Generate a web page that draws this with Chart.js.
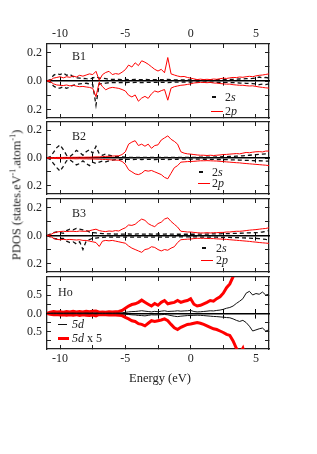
<!DOCTYPE html>
<html>
<head>
<meta charset="utf-8">
<script src="https://cdn.jsdelivr.net/npm/chart.js@4.4.1/dist/chart.umd.min.js"></script>
<style>
  body { margin: 0; background: #fff; }
  #wrap { position: relative; width: 317px; height: 454px; overflow: hidden; font-family: 'Liberation Serif', 'Times New Roman', serif; color: #222; }
  #wrap canvas { position: absolute; left: 0; top: 0; }
  .t { position: absolute; white-space: nowrap; font-size: 12px; line-height: 14px; transform: translateY(-50%); }
  .sym { position: absolute; }
</style>
</head>
<body>
<div id="wrap">
  <canvas id="c1" width="317" height="454"></canvas>
  <canvas id="c2" width="317" height="454"></canvas>
  <canvas id="c3" width="317" height="454"></canvas>
  <canvas id="c4" width="317" height="454"></canvas>
</div>
<script>
// energy grid (eV)
const energy = [
  -11, -10.75, -10.5, -10.25,
  -10, -9.75, -9.5, -9.25,
  -9, -8.75, -8.5, -8.25,
  -8, -7.75, -7.5, -7.25,
  -7, -6.75, -6.5, -6.25,
  -6, -5.75, -5.5, -5.25,
  -5, -4.75, -4.5, -4.25,
  -4, -3.75, -3.5, -3.25,
  -3, -2.75, -2.5, -2.25,
  -2, -1.75, -1.5, -1.25,
  -1, -0.75, -0.5, -0.25,
  0, 0.25, 0.5, 0.75,
  1, 1.25, 1.5, 1.75,
  2, 2.25, 2.5, 2.75,
  3, 3.25, 3.5, 3.75,
  4, 4.25, 4.5, 4.75,
  5, 5.25, 5.5, 5.75,
  6
];
const xTickLabels = [-10, -5, 0, 5];

// B1
const b1pUp = [
  0, 0.005, 0.02, 0.025,
  0.03, 0.022, 0.03, 0.026,
  0.035, 0.028, 0.04, 0.034,
  0.042, 0.05, 0.045, 0.068,
  0.005, 0.045, 0.06, 0.068,
  0.045, 0.052, 0.048, 0.062,
  0.08, 0.112, 0.098, 0.128,
  0.108, 0.142, 0.132, 0.118,
  0.1, 0.082, 0.07, 0.082,
  0.058, 0.165, 0.05, 0.042,
  0.035, 0.03, 0.032, 0.025,
  0.02, 0.015, 0.01, 0.013,
  0.01, 0.012, 0.01, 0.014,
  0.012, 0.016, 0.02, 0.018,
  0.022, 0.025, 0.024, 0.028,
  0.026, 0.03, 0.033, 0.03,
  0.036, 0.04, 0.042, 0.046,
  0.05
];
const b1pDown = [
  0, -0.005, -0.02, -0.028,
  -0.03, -0.032, -0.028, -0.034,
  -0.03, -0.036, -0.04, -0.038,
  -0.042, -0.045, -0.052, -0.11,
  -0.008, -0.04, -0.062, -0.05,
  -0.045, -0.048, -0.052, -0.06,
  -0.07, -0.1, -0.112, -0.098,
  -0.142, -0.12, -0.108, -0.122,
  -0.09, -0.07, -0.078, -0.068,
  -0.06, -0.135, -0.05, -0.04,
  -0.035, -0.03, -0.028, -0.024,
  -0.02, -0.014, -0.012, -0.01,
  -0.01, -0.012, -0.01, -0.014,
  -0.015, -0.018, -0.02, -0.022,
  -0.022, -0.026, -0.028, -0.03,
  -0.03, -0.033, -0.035, -0.034,
  -0.038, -0.042, -0.045, -0.048,
  -0.05
];
const b1sUp = [
  0, 0.01, 0.04, 0.052,
  0.045, 0.056, 0.04, 0.048,
  0.03, 0.022, 0.02, 0.018,
  0.016, 0.015, 0.02, 0.03,
  0.02, 0.02, 0.016, 0.012,
  0.012, 0.01, 0.012, 0.01,
  0.012, 0.01, 0.01, 0.011,
  0.01, 0.01, 0.011, 0.01,
  0.01, 0.009, 0.01, 0.009,
  0.01, 0.012, 0.009, 0.008,
  0.008, 0.008, 0.007, 0.008,
  0.007, 0.007, 0.008, 0.007,
  0.007, 0.008, 0.008, 0.008,
  0.009, 0.009, 0.01, 0.01,
  0.011, 0.012, 0.013, 0.014,
  0.015, 0.016, 0.017, 0.018,
  0.02, 0.028, 0.022, 0.025,
  0.02
];
const b1sDown = [
  0, -0.01, -0.035, -0.05,
  -0.05, -0.04, -0.052, -0.042,
  -0.03, -0.025, -0.02, -0.018,
  -0.016, -0.02, -0.025, -0.17,
  -0.02, -0.018, -0.015, -0.012,
  -0.012, -0.011, -0.012, -0.01,
  -0.012, -0.01, -0.011, -0.01,
  -0.01, -0.011, -0.01, -0.01,
  -0.01, -0.009, -0.01, -0.01,
  -0.009, -0.012, -0.009, -0.008,
  -0.008, -0.008, -0.007, -0.008,
  -0.007, -0.008, -0.007, -0.007,
  -0.008, -0.007, -0.008, -0.008,
  -0.009, -0.009, -0.01, -0.01,
  -0.011, -0.012, -0.012, -0.014,
  -0.015, -0.016, -0.017, -0.018,
  -0.02, -0.026, -0.022, -0.025,
  -0.02
];

// B2
const b2pUp = [
  0, 0.002, 0.003, 0.004,
  0.004, 0.004, 0.005, 0.004,
  0.005, 0.005, 0.006, 0.005,
  0.006, 0.006, 0.007, 0.008,
  0.008, 0.01, 0.012, 0.012,
  0.014, 0.015, 0.016, 0.025,
  0.045, 0.1, 0.115, 0.125,
  0.09, 0.1, 0.085, 0.1,
  0.07, 0.09, 0.095, 0.13,
  0.145, 0.16, 0.135, 0.12,
  0.1, 0.045, 0.035, 0.03,
  0.028, 0.025, 0.022, 0.02,
  0.02, 0.018, 0.02, 0.018,
  0.02, 0.022, 0.025, 0.026,
  0.028, 0.03, 0.032, 0.03,
  0.035, 0.04, 0.038, 0.042,
  0.045, 0.046, 0.044, 0.05,
  0.05
];
const b2pDown = [
  0, -0.002, -0.003, -0.004,
  -0.004, -0.005, -0.004, -0.005,
  -0.005, -0.006, -0.005, -0.006,
  -0.006, -0.007, -0.007, -0.008,
  -0.009, -0.01, -0.011, -0.012,
  -0.014, -0.015, -0.016, -0.025,
  -0.045, -0.085, -0.1, -0.115,
  -0.12, -0.11, -0.09, -0.095,
  -0.09, -0.1, -0.11, -0.12,
  -0.14, -0.15, -0.11, -0.07,
  -0.055, -0.03, -0.028, -0.026,
  -0.025, -0.024, -0.022, -0.02,
  -0.02, -0.019, -0.02, -0.021,
  -0.022, -0.024, -0.026, -0.028,
  -0.03, -0.032, -0.034, -0.035,
  -0.038, -0.04, -0.042, -0.044,
  -0.046, -0.048, -0.05, -0.052,
  -0.055
];
const b2sUp = [
  0, 0.01, 0.04, 0.075,
  0.095, 0.06, 0.02, 0.01,
  0.03, 0.055, 0.04, 0.02,
  0.045, 0.06, 0.035, 0.085,
  0.03, 0.02, 0.03, 0.02,
  0.015, 0.012, 0.01, 0.008,
  0.006, 0.005, 0.004, 0.005,
  0.004, 0.004, 0.005, 0.004,
  0.004, 0.004, 0.005, 0.004,
  0.004, 0.005, 0.004, 0.004,
  0.004, 0.004, 0.004, 0.005,
  0.005, 0.005, 0.005, 0.006,
  0.006, 0.006, 0.007, 0.007,
  0.008, 0.008, 0.009, 0.01,
  0.011, 0.012, 0.013, 0.014,
  0.016, 0.018, 0.02, 0.022,
  0.024, 0.026, 0.028, 0.03,
  0.03
];
const b2sDown = [
  0, -0.01, -0.04, -0.07,
  -0.095, -0.06, -0.02, -0.012,
  -0.03, -0.05, -0.04, -0.02,
  -0.04, -0.055, -0.03, -0.04,
  -0.03, -0.022, -0.028, -0.02,
  -0.015, -0.012, -0.011, -0.01,
  -0.01, -0.01, -0.011, -0.01,
  -0.01, -0.011, -0.01, -0.01,
  -0.01, -0.011, -0.01, -0.01,
  -0.01, -0.011, -0.01, -0.01,
  -0.009, -0.008, -0.008, -0.008,
  -0.008, -0.008, -0.008, -0.009,
  -0.009, -0.009, -0.01, -0.01,
  -0.011, -0.011, -0.012, -0.012,
  -0.013, -0.014, -0.014, -0.015,
  -0.016, -0.017, -0.018, -0.019,
  -0.02, -0.02, -0.021, -0.022,
  -0.022
];

// B3
const b3pUp = [
  0, 0.005, 0.018, 0.025,
  0.028, 0.03, 0.028, 0.03,
  0.03, 0.028, 0.032, 0.03,
  0.03, 0.034, 0.04, 0.045,
  0.035, 0.03, 0.028, 0.032,
  0.03, 0.035, 0.032, 0.045,
  0.055, 0.075, 0.072, 0.08,
  0.1, 0.117, 0.108, 0.085,
  0.072, 0.063, 0.085, 0.095,
  0.117, 0.126, 0.1, 0.08,
  0.06, 0.03, 0.028, 0.025,
  0.025, 0.022, 0.02, 0.018,
  0.018, 0.02, 0.018, 0.02,
  0.02, 0.022, 0.022, 0.025,
  0.025, 0.028, 0.03, 0.03,
  0.032, 0.035, 0.038, 0.04,
  0.042, 0.045, 0.048, 0.05,
  0.055
];
const b3pDown = [
  0, -0.005, -0.02, -0.028,
  -0.03, -0.028, -0.03, -0.028,
  -0.03, -0.032, -0.03, -0.035,
  -0.035, -0.04, -0.045, -0.05,
  -0.078, -0.04, -0.035, -0.038,
  -0.035, -0.04, -0.045, -0.05,
  -0.055, -0.075, -0.09, -0.1,
  -0.11, -0.12, -0.1, -0.095,
  -0.08, -0.085, -0.1, -0.11,
  -0.1, -0.105, -0.09, -0.08,
  -0.05, -0.03, -0.028, -0.026,
  -0.025, -0.022, -0.02, -0.02,
  -0.02, -0.021, -0.022, -0.022,
  -0.024, -0.025, -0.026, -0.028,
  -0.03, -0.032, -0.034, -0.036,
  -0.038, -0.04, -0.042, -0.045,
  -0.047, -0.05, -0.052, -0.054,
  -0.056
];
const b3sUp = [
  0, 0.01, 0.02, 0.025,
  0.02, 0.015, 0.035, 0.045,
  0.04, 0.05, 0.045, 0.04,
  0.035, 0.025, 0.02, 0.018,
  0.015, 0.014, 0.012, 0.012,
  0.011, 0.01, 0.011, 0.01,
  0.01, 0.011, 0.01, 0.01,
  0.011, 0.01, 0.01, 0.011,
  0.01, 0.01, 0.011, 0.01,
  0.01, 0.011, 0.01, 0.01,
  0.009, 0.009, 0.009, 0.009,
  0.009, 0.009, 0.01, 0.01,
  0.01, 0.01, 0.011, 0.011,
  0.012, 0.012, 0.013, 0.013,
  0.014, 0.015, 0.015, 0.016,
  0.017, 0.018, 0.019, 0.02,
  0.02, 0.022, 0.025, 0.03,
  0.035
];
const b3sDown = [
  0, -0.01, -0.02, -0.025,
  -0.02, -0.02, -0.04, -0.05,
  -0.045, -0.06, -0.045, -0.1,
  -0.04, -0.03, -0.02, -0.018,
  -0.015, -0.014, -0.012, -0.012,
  -0.012, -0.011, -0.012, -0.011,
  -0.012, -0.011, -0.012, -0.011,
  -0.012, -0.011, -0.011, -0.012,
  -0.011, -0.011, -0.012, -0.011,
  -0.011, -0.012, -0.011, -0.011,
  -0.01, -0.01, -0.01, -0.01,
  -0.01, -0.01, -0.01, -0.011,
  -0.011, -0.011, -0.012, -0.012,
  -0.012, -0.013, -0.013, -0.014,
  -0.014, -0.015, -0.015, -0.016,
  -0.017, -0.018, -0.019, -0.02,
  -0.021, -0.022, -0.025, -0.028,
  -0.03
];

// Ho 5d
const ho5dUp = [
  0, 0.006, 0.01, 0.007,
  0.009, 0.006, 0.01, 0.008,
  0.011, 0.007, 0.01, 0.008,
  0.012, 0.009, 0.011, 0.013,
  0.006, 0.008, 0.006, 0.009,
  0.007, 0.009, 0.01, 0.016,
  0.028, 0.04, 0.048, 0.052,
  0.06, 0.072, 0.06, 0.05,
  0.04, 0.054, 0.044, 0.06,
  0.07, 0.052, 0.056, 0.06,
  0.07, 0.06, 0.066, 0.07,
  0.08, 0.05, 0.04, 0.044,
  0.052, 0.06, 0.07, 0.066,
  0.08, 0.09, 0.11, 0.14,
  0.16, 0.2, 0.27, 0.33,
  0.4, 0.55, 0.6, 0.5,
  0.54, 0.52, 0.58, 0.5,
  0.52
];
const ho5dDown = [
  0, -0.005, -0.008, -0.006,
  -0.009, -0.007, -0.01, -0.008,
  -0.01, -0.007, -0.012, -0.008,
  -0.01, -0.012, -0.009, -0.014,
  -0.006, -0.008, -0.007, -0.009,
  -0.008, -0.009, -0.01, -0.012,
  -0.022, -0.03, -0.04, -0.044,
  -0.056, -0.06, -0.068, -0.054,
  -0.04, -0.044, -0.04, -0.036,
  -0.03, -0.04, -0.06, -0.078,
  -0.088, -0.076, -0.068, -0.06,
  -0.058, -0.054, -0.05, -0.054,
  -0.06, -0.068, -0.076, -0.084,
  -0.088, -0.096, -0.104, -0.114,
  -0.12, -0.15, -0.19, -0.22,
  -0.19, -0.25, -0.35, -0.48,
  -0.45, -0.42, -0.4, -0.48,
  -0.45
];
const hoScale = 5;

const FONT = { family: "'Liberation Serif', 'Times New Roman', serif", size: 12 };
const INK = '#222';
const W = 317, H = 454;

const pts = vals => energy.map((e, i) => ({ x: e, y: vals[i] }));

function line(vals, color, width, dash) {
    return {
        data: pts(vals),
        borderColor: color,
        borderWidth: width,
        borderDash: dash || [],
        pointRadius: 0,
        tension: 0,
        fill: false,
        clip: 0,
        xAxisID: 'x',
        yAxisID: 'y'
    };
}

function xLabel(v) {
    return xTickLabels.some(t => Math.abs(t - v) < 1e-6) ? String(v) : '';
}

function makePanel(id, top, bottom, yRange, yStep, yLabelEvery, datasets, topLabels, bottomLabels) {
    const yLabel = v => {
        const r = Math.round(v / yLabelEvery);
        return Math.abs(v / yLabelEvery - r) < 1e-6 ? Math.abs(v).toFixed(1) : '';
    };
    const frame = { color: INK, width: 1.3 };
    const tickGrid = { drawOnChartArea: false, tickLength: -4, color: INK, lineWidth: 1 };
    const xTicks = { stepSize: 2.5, includeBounds: false, autoSkip: false, maxRotation: 0,
                     font: FONT, color: INK, callback: xLabel };
    const xBase = {
        type: 'linear', min: -11, max: 6,
        grid: tickGrid, border: frame
    };
    return new Chart(document.getElementById(id), {
        type: 'line',
        data: { datasets: datasets },
        options: {
            responsive: false,
            animation: false,
            events: [],
            layout: { padding: { left: 0, right: 48, top: 0, bottom: 0 }, autoPadding: false },
            plugins: { legend: { display: false }, tooltip: { enabled: false } },
            scales: {
                x: Object.assign({}, xBase, {
                    position: 'bottom',
                    ticks: Object.assign({}, xTicks, { display: bottomLabels, padding: 7.1 }),
                    afterFit: s => { s.height = H - bottom; s.paddingLeft = 0; s.paddingRight = 0; }
                }),
                xTop: Object.assign({}, xBase, {
                    position: 'top',
                    ticks: Object.assign({}, xTicks, { display: topLabels, padding: 6.8 }),
                    afterFit: s => { s.height = top; s.paddingLeft = 0; s.paddingRight = 0; }
                }),
                y: {
                    type: 'linear', position: 'left', min: yRange[0], max: yRange[1],
                    ticks: { stepSize: yStep, includeBounds: false, autoSkip: false, padding: 9,
                             font: FONT, color: INK, callback: yLabel },
                    grid: tickGrid, border: frame,
                    afterFit: s => { s.width = 47; s.paddingTop = 0; s.paddingBottom = 0; }
                },
                yRight: {
                    type: 'linear', position: 'right', min: yRange[0], max: yRange[1],
                    ticks: { stepSize: yStep, includeBounds: false, display: false },
                    grid: tickGrid, border: frame,
                    afterFit: s => { s.width = 0; }
                },
                xZero: {
                    type: 'linear', position: { y: 0 }, min: -11, max: 6,
                    ticks: { stepSize: 2.5, includeBounds: false, display: false },
                    grid: { drawOnChartArea: false, tickLength: 4, color: '#000', lineWidth: 1 },
                    border: { color: '#000', width: 1.6 },
                    afterFit: s => { s.height = 0; }
                },
                xZero2: {
                    type: 'linear', position: { y: 0 }, min: -11, max: 6,
                    ticks: { stepSize: 2.5, includeBounds: false, display: false },
                    grid: { drawOnChartArea: false, tickLength: -4, color: '#000', lineWidth: 1 },
                    border: { display: false },
                    afterFit: s => { s.height = 0; }
                }
            }
        }
    });
}

const RED = '#ff0000';
const DASH = '#111';
const bRange = [-0.26, 0.26];

makePanel('c1', 44, 118, bRange, 0.1, 0.2, [
    line(b1pUp, RED, 1), line(b1pDown, RED, 1),
    line(b1sUp, DASH, 1.3, [4, 3]), line(b1sDown, DASH, 1.3, [4, 3])
], true, false);

makePanel('c2', 122, 194, bRange, 0.1, 0.2, [
    line(b2pUp, RED, 1), line(b2pDown, RED, 1),
    line(b2sUp, DASH, 1.3, [4, 3]), line(b2sDown, DASH, 1.3, [4, 3])
], false, false);

makePanel('c3', 199, 272, bRange, 0.1, 0.2, [
    line(b3pUp, RED, 1), line(b3pDown, RED, 1),
    line(b3sUp, DASH, 1.3, [4, 3]), line(b3sDown, DASH, 1.3, [4, 3])
], false, false);

makePanel('c4', 277, 349, [-0.97, 0.99], 0.25, 0.5, [
    line(ho5dUp, '#111', 1), line(ho5dDown, '#111', 1),
    line(ho5dUp.map(v => v * hoScale), RED, 3), line(ho5dDown.map(v => v * hoScale), RED, 3)
], false, true);

// texts and legend keys
const wrap = document.getElementById('wrap');
function text(html, x, y, extra) {
    const d = document.createElement('div');
    d.className = 't';
    d.innerHTML = html;
    d.style.left = x + 'px';
    d.style.top = y + 'px';
    if (extra) Object.assign(d.style, extra);
    wrap.appendChild(d);
}
function key(x1, x2, y, color, thick) {
    const d = document.createElement('div');
    d.className = 'sym';
    d.style.left = x1 + 'px';
    d.style.width = (x2 - x1) + 'px';
    d.style.top = Math.round(y - thick / 2) + 'px';
    d.style.height = thick + 'px';
    d.style.background = color;
    wrap.appendChild(d);
}

text('B1', 72, 55.5);
text('B2', 72, 136);
text('B3', 72, 213);
text('Ho', 58, 292);

key(212, 216, 97, DASH, 2);  text('2<i>s</i>', 225, 97);
key(211, 223, 111, RED, 1);  text('2<i>p</i>', 225, 110.5);
key(199, 203, 172, DASH, 2); text('2<i>s</i>', 212, 172);
key(198, 210, 183, RED, 1);  text('2<i>p</i>', 212, 183);
key(202, 206, 248, DASH, 2); text('2<i>s</i>', 216, 248);
key(201, 213, 260, RED, 1);  text('2<i>p</i>', 216, 259.5);

key(58, 67, 324, '#111', 1); text('<i>5d</i>', 72, 324);
key(58, 69, 338, RED, 3);    text('<i>5d</i> x 5', 72, 338);

text('Energy (eV)', 160, 378, { transform: 'translate(-50%, -50%)', fontSize: '12.5px' });
text('PDOS (states.eV<sup style="font-size:8px">-1</sup>.atom<sup style="font-size:8px">-1</sup>)', 15, 195,
     { transform: 'translate(-50%, -50%) rotate(-90deg)', fontSize: '12.5px' });
</script>
</body>
</html>
